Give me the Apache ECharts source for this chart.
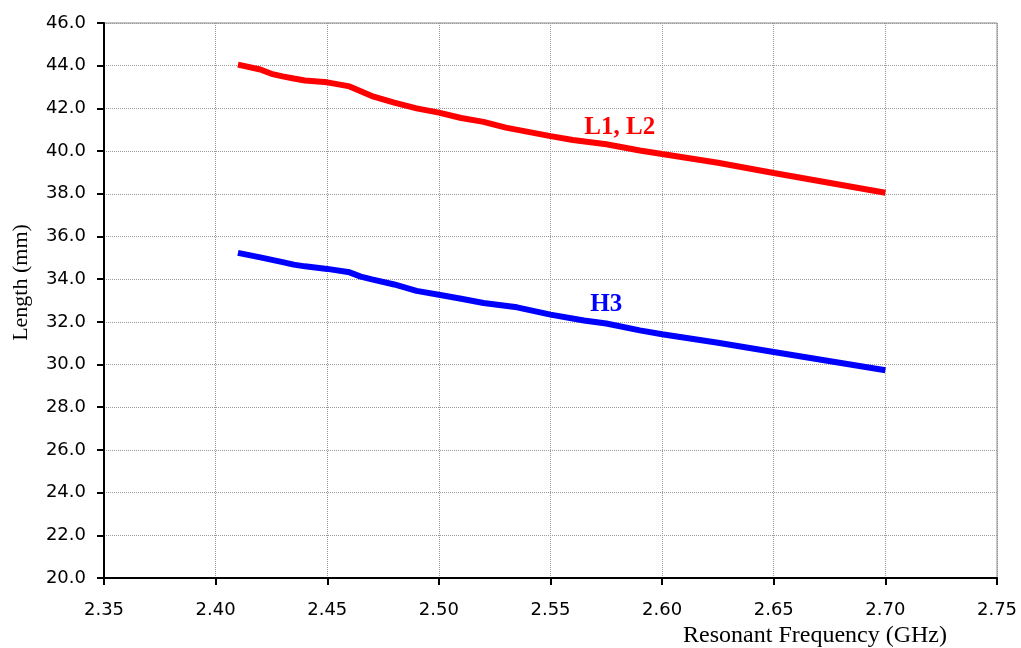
<!DOCTYPE html>
<html>
<head>
<meta charset="utf-8">
<script src="https://cdn.jsdelivr.net/npm/echarts@6/dist/echarts.min.js"></script>
<style>html,body{margin:0;padding:0;background:#fff}#c{width:1021px;height:648px}</style>
</head>
<body>
<div id="c"></div>
<script>
// Frequencies (GHz) and lengths (mm)
var freqL = [2.41, 2.42, 2.425, 2.43, 2.435, 2.44, 2.45, 2.46, 2.47, 2.48, 2.49, 2.50, 2.51, 2.52, 2.53, 2.54, 2.55, 2.56, 2.575, 2.59, 2.60, 2.625, 2.65, 2.70];
var lenL  = [44.05, 43.82, 43.62, 43.50, 43.40, 43.31, 43.22, 43.03, 42.58, 42.27, 42.00, 41.80, 41.55, 41.37, 41.10, 40.90, 40.70, 40.52, 40.32, 40.03, 39.86, 39.45, 38.97, 38.05];
var freqH = [2.41, 2.42, 2.43, 2.435, 2.44, 2.45, 2.46, 2.465, 2.47, 2.48, 2.49, 2.50, 2.51, 2.52, 2.535, 2.55, 2.565, 2.575, 2.59, 2.60, 2.625, 2.65, 2.70];
var lenH  = [35.23, 35.02, 34.80, 34.68, 34.60, 34.48, 34.32, 34.12, 33.99, 33.75, 33.45, 33.27, 33.08, 32.88, 32.68, 32.34, 32.06, 31.92, 31.60, 31.42, 31.02, 30.59, 29.73];
var labelL = {text: 'L1, L2', coord: [2.581, 41.1]};
var labelH = {text: 'H3', coord: [2.575, 32.8]};
var xTicks = {min: 2.35, max: 2.75, step: 0.05};
var yTicks = {min: 20, max: 46, step: 2};

function pairs(xs, ys) { return xs.map(function (x, i) { return [x, ys[i]]; }); }

var chart = echarts.init(document.getElementById('c'), null, {renderer: 'canvas'});
chart.setOption({
  animation: false,
  backgroundColor: '#ffffff',
  grid: {left: 104, right: 24, top: 23, bottom: 70, containLabel: false, outerBoundsMode: 'none',
         show: true, borderColor: '#8a8a8a', borderWidth: 1, backgroundColor: '#ffffff'},
  xAxis: {
    type: 'value', min: xTicks.min, max: xTicks.max, interval: xTicks.step,
    name: 'Resonant Frequency (GHz)', nameLocation: 'end', nameGap: -50,
    nameTextStyle: {fontFamily: 'Liberation Serif', fontSize: 24, color: '#000', align: 'right', verticalAlign: 'top', padding: [46, 0, 0, 0]},
    axisLine: {show: true, onZero: false, lineStyle: {color: '#000', width: 2}},
    axisTick: {show: true, inside: false, length: 7, lineStyle: {color: '#000', width: 2}},
    axisLabel: {margin: 23, fontFamily: 'DejaVu Sans', fontSize: 18, color: '#000', formatter: function (v) { return v.toFixed(2); }},
    splitLine: {show: true, lineStyle: {color: '#999', type: 'dotted', width: 1}}
  },
  yAxis: {
    type: 'value', min: yTicks.min, max: yTicks.max, interval: yTicks.step,
    name: 'Length (mm)', nameLocation: 'middle', nameGap: 72,
    nameTextStyle: {fontFamily: 'Liberation Serif', fontSize: 22, color: '#000', padding: [0, 0, 0, 36]},
    axisLine: {show: true, onZero: false, lineStyle: {color: '#000', width: 2}},
    axisTick: {show: true, inside: false, length: 7, lineStyle: {color: '#000', width: 2}},
    axisLabel: {margin: 18, fontFamily: 'DejaVu Sans', fontSize: 18, color: '#000', formatter: function (v) { return v.toFixed(1); }},
    splitLine: {show: true, lineStyle: {color: '#999', type: 'dotted', width: 1}}
  },
  series: [
    {
      type: 'line', name: 'L1, L2', data: pairs(freqL, lenL), showSymbol: false, smooth: false,
      lineStyle: {color: '#ff0000', width: 6}, itemStyle: {color: '#ff0000'},
      markPoint: {
        symbol: 'circle', symbolSize: 1, itemStyle: {color: 'rgba(0,0,0,0)'},
        label: {show: true, position: 'inside', formatter: labelL.text, color: '#ff0000', fontFamily: 'Liberation Serif', fontWeight: 'bold', fontSize: 25},
        data: [{coord: labelL.coord}]
      }
    },
    {
      type: 'line', name: 'H3', data: pairs(freqH, lenH), showSymbol: false, smooth: false,
      lineStyle: {color: '#0000ff', width: 6}, itemStyle: {color: '#0000ff'},
      markPoint: {
        symbol: 'circle', symbolSize: 1, itemStyle: {color: 'rgba(0,0,0,0)'},
        label: {show: true, position: 'inside', formatter: labelH.text, color: '#0000ff', fontFamily: 'Liberation Serif', fontWeight: 'bold', fontSize: 25},
        data: [{coord: labelH.coord}]
      }
    }
  ]
});
</script>
</body>
</html>
